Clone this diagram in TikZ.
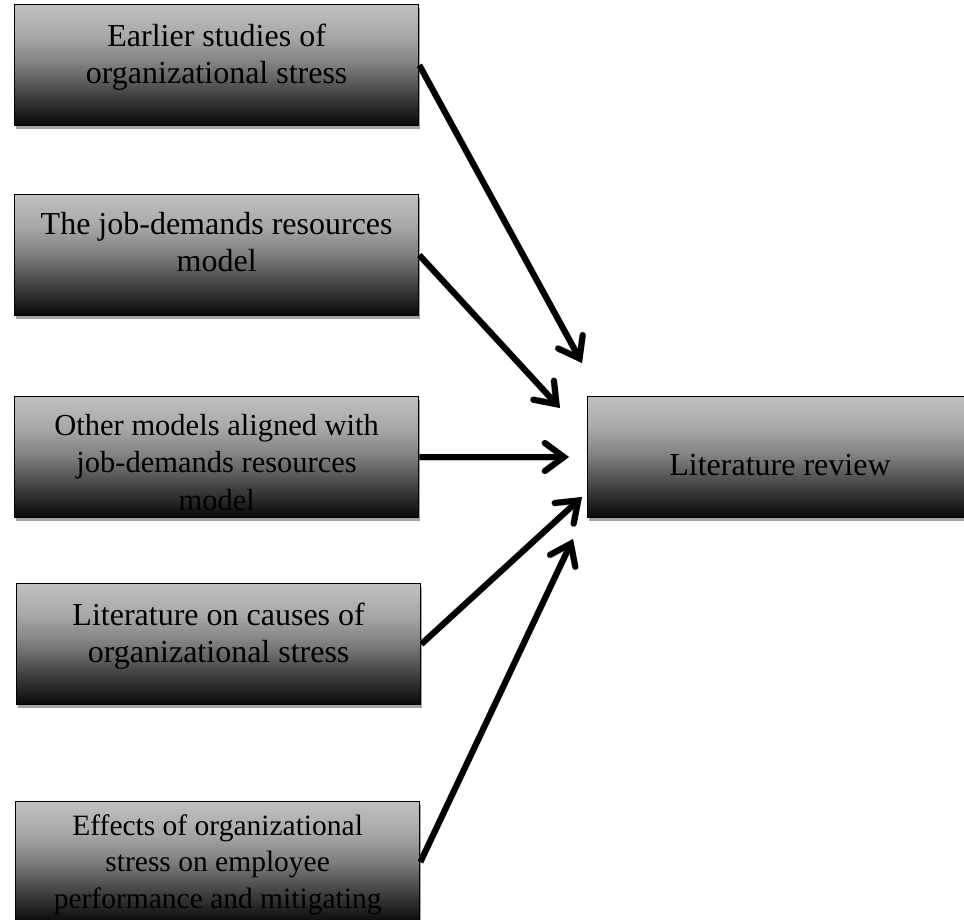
\documentclass[tikz,border=0pt]{standalone}
\usepackage{fontspec}
\setmainfont{Liberation Serif}
\usetikzlibrary{arrows.meta,calc,shadows}

% grey ramp of the boxes, light at the top, almost black at the bottom
\definecolor{rampTop}{RGB}{192,192,192}
\definecolor{rampA}{RGB}{168,168,168}
\definecolor{rampB}{RGB}{125,125,125}
\definecolor{rampC}{RGB}{62,62,62}
\definecolor{rampD}{RGB}{8,8,8}
\definecolor{shadowgrey}{RGB}{165,165,165}
\pgfdeclareverticalshading{boxfade}{100bp}{%
  color(0bp)=(rampD); color(25bp)=(rampD); color(37bp)=(rampC);
  color(50bp)=(rampB); color(62bp)=(rampA); color(75bp)=(rampTop);
  color(100bp)=(rampTop)}

\tikzset{
  topicbox/.style={rectangle, draw=black, line width=1.3pt, shading=boxfade,
    minimum width=404pt, minimum height=121pt, inner sep=0pt, anchor=north west,
    drop shadow={shadow xshift=1.5pt, shadow yshift=-3pt, fill=shadowgrey, opacity=1}},
  boxtext/.style={anchor=base, inner sep=0pt, text=black},
  bigtext/.style={boxtext, font=\fontsize{32}{37}\selectfont},
  barb/.style={-{Straight Barb[length=19pt, width=28pt, line cap=round]}},
  flowshadow/.style={draw=shadowgrey, line width=6.5pt, line join=round, barb},
  flow/.style={draw=black, line width=6pt, line join=round, barb}
}

\begin{document}
\begin{tikzpicture}[x=1pt, y=-1pt]
  \clip (0,0) rectangle (964,920);
  \fill[white] (0,0) rectangle (964,920);

  % source topics on the left
  \node[topicbox] (b1) at (14,4) {};
  \node[topicbox] (b2) at (14,194) {};
  \node[topicbox] (b3) at (14,396) {};
  \node[topicbox] (b4) at (16,583) {};
  \node[topicbox] (b5) at (15,801) {};
  % target on the right
  \node[topicbox] (lit) at (587,396) {};

  \node[bigtext] (b1t) at ($(b1.north)+(0,43)$)
    {\parbox[t]{396pt}{\centering Earlier studies of\\organizational stress}};
  \node[bigtext] (b2t) at ($(b2.north)+(0,41)$)
    {\parbox[t]{396pt}{\centering The job-demands resources\\model}};
  \node[boxtext, font=\fontsize{30.5}{37.5}\selectfont] (b3t) at ($(b3.north)+(0,39)$)
    {\parbox[t]{396pt}{\centering Other models aligned with\\job-demands resources\\model}};
  \node[bigtext] (b4t) at ($(b4.north)+(0,42)$)
    {\parbox[t]{396pt}{\centering Literature on causes of\\organizational stress}};
  \node[boxtext, font=\fontsize{29.5}{36.5}\selectfont] (b5t) at ($(b5.north)+(0,34)$)
    {\parbox[t]{396pt}{\centering Effects of organizational\\stress on employee\\performance and mitigating}};
  \node[bigtext] (litt) at (780,475) {Literature review};

  % arrow tips stop short of the target box
  \coordinate (t1) at (582,363);
  \coordinate (t2) at (560,408);
  \coordinate (t3) at (569,457);
  \coordinate (t4) at (582,497);
  \coordinate (t5) at (573,539);

  % soft grey copies under the arrows
  \begin{scope}[shift={(1.5,2.5)}]
    \draw[flowshadow] (b1.east) -- (t1);
    \draw[flowshadow] (b2.east) -- (t2);
    \draw[flowshadow] (b3.east) -- (t3);
    \draw[flowshadow] (b4.east) -- (t4);
    \draw[flowshadow] (b5.east) -- (t5);
  \end{scope}

  \draw[flow] (b1.east) -- (t1);
  \draw[flow] (b2.east) -- (t2);
  \draw[flow] (b3.east) -- (t3);
  \draw[flow] (b4.east) -- (t4);
  \draw[flow] (b5.east) -- (t5);
\end{tikzpicture}
\end{document}
